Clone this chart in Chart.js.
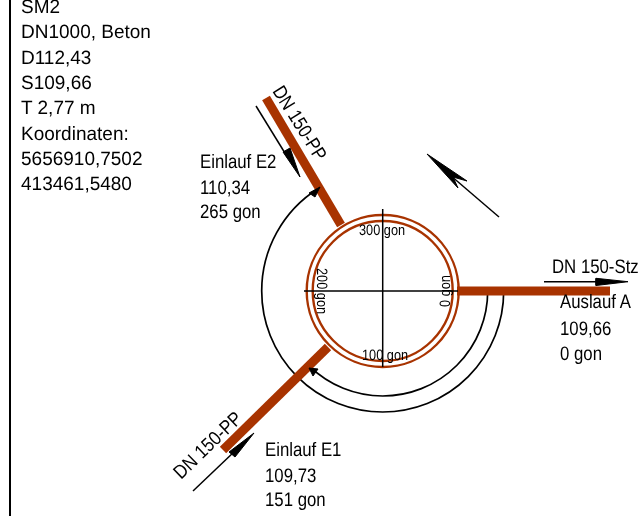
<!DOCTYPE html>
<html>
<head>
<meta charset="utf-8">
<style>
  html, body { margin: 0; padding: 0; background: #fff; }
  canvas { display: block; }
</style>
<script src="https://cdn.jsdelivr.net/npm/chart.js@4/dist/chart.umd.min.js"></script>
</head>
<body>
<canvas id="shaftChart" width="639" height="516"></canvas>
<script>
// Shaft centre and rings
const shaftCentre = { x: 382.7, y: 291 };
const ringRadii = [76, 70];

// Pipes
const pipeA = [{ x: 457, y: 291 }, { x: 610, y: 291 }];
const pipeE1 = [{ x: 328, y: 347 }, { x: 223, y: 450 }];
const pipeE2 = [{ x: 341, y: 225 }, { x: 266, y: 98 }];

// Cross inside the shaft
const crossH = [{ x: 304, y: 291 }, { x: 458, y: 291 }];
const crossV = [{ x: 382.7, y: 209 }, { x: 382.7, y: 367 }];

// Left border
const borderLine = [{ x: 10, y: 0 }, { x: 10, y: 516 }];

// Angle arcs, radius and end angle in gon
const arcRadii = [105, 121];
const arcEndGon = [149, 264];

// Flow arrows, shaft line and head outline
const shaftA = [{ x: 544, y: 281.7 }, { x: 600, y: 281.7 }];
const headA = [{ x: 628, y: 281.7 }, { x: 596, y: 278.3 }, { x: 596, y: 285.5 }];
const shaftE1 = [{ x: 193, y: 491 }, { x: 235, y: 451 }];
const headE1 = [{ x: 254, y: 433 }, { x: 229, y: 452 }, { x: 235, y: 457 }];
const shaftE2 = [{ x: 256, y: 106 }, { x: 288, y: 158 }];
const headE2 = [{ x: 300, y: 177 }, { x: 283, y: 152 }, { x: 290, y: 148 }];
const shaftNorth = [{ x: 499, y: 217 }, { x: 450, y: 175 }];
const headNorth = [{ x: 427, y: 154 }, { x: 467, y: 181 }, { x: 453, y: 177 }, { x: 458, y: 188 }];

// Arc arrow heads
const headArcInner = [{ x: 309, y: 368 }, { x: 318, y: 369 }, { x: 313, y: 376 }];
const headArcOuter = [{ x: 320, y: 187 }, { x: 309, y: 193 }, { x: 315, y: 197 }];

// Text blocks
const infoLines = ['SM2', 'DN1000, Beton', 'D112,43', 'S109,66', 'T 2,77 m', 'Koordinaten:', '5656910,7502', '413461,5480'];
const infoBaselines = [13, 38, 64, 89, 114, 140, 165, 190];
const e2Lines = ['Einlauf E2', '110,34', '265 gon'];
const e2Baselines = [168, 194, 218];
const e1Lines = ['Einlauf E1', '109,73', '151 gon'];
const e1Baselines = [456, 482, 506];
const aLines = ['Auslauf A', '109,66', '0 gon'];
const aBaselines = [308, 335, 360];

const brown = '#a83300';

// Line dataset helper
const lineSet = (data, width, color, order) => ({
    data,
    borderColor: color,
    borderWidth: width,
    showLine: true,
    pointRadius: 0,
    borderCapStyle: 'butt',
    tension: 0,
    order
});

// Filled arrow head helper
const headSet = (data) => ({
    data: [...data, data[0]],
    borderColor: '#000',
    backgroundColor: '#000',
    borderWidth: 1,
    showLine: true,
    pointRadius: 0,
    fill: 'shape',
    tension: 0,
    order: 0
});

// Draw text at chart coordinates, stretched in x only
const putText = (chart, text, x, y, size, stretch = 1, turn = 0) => {
    const ctx = chart.ctx;
    ctx.save();
    ctx.translate(chart.scales.x.getPixelForValue(x), chart.scales.y.getPixelForValue(y));
    ctx.rotate(turn * Math.PI / 180);
    ctx.scale(stretch, 1);
    ctx.textRendering = 'geometricPrecision';
    ctx.font = `${size}px "Liberation Sans"`;
    ctx.fillStyle = '#000';
    ctx.textBaseline = 'alphabetic';
    ctx.fillText(text, 0, 0);
    ctx.restore();
};

// Rings and angle arcs sit below the pipes
const ringsPlugin = {
    id: 'rings',
    beforeDatasetsDraw(chart) {
        const { ctx, scales } = chart;
        const cx = scales.x.getPixelForValue(shaftCentre.x);
        const cy = scales.y.getPixelForValue(shaftCentre.y);
        const toPx = (r) => scales.x.getPixelForValue(shaftCentre.x + r) - cx;
        ctx.save();
        ctx.strokeStyle = brown;
        ctx.lineWidth = 2.4;
        ringRadii.forEach(r => {
            ctx.beginPath();
            ctx.arc(cx, cy, toPx(r), 0, Math.PI * 2);
            ctx.stroke();
        });
        ctx.strokeStyle = '#000';
        ctx.lineWidth = 1.7;
        arcRadii.forEach((r, i) => {
            ctx.beginPath();
            ctx.arc(cx, cy, toPx(r), 0, arcEndGon[i] * Math.PI / 200);
            ctx.stroke();
        });
        ctx.restore();
    }
};

// All labels
const labelsPlugin = {
    id: 'labels',
    afterDatasetsDraw(chart) {
        infoLines.forEach((t, i) => putText(chart, t, 21, infoBaselines[i], 19.2, 0.99));
        e2Lines.forEach((t, i) => putText(chart, t, 200, e2Baselines[i], 19.5, 0.86));
        e1Lines.forEach((t, i) => putText(chart, t, 265, e1Baselines[i], 19.5, 0.86));
        aLines.forEach((t, i) => putText(chart, t, 560, aBaselines[i], 19.5, 0.86));
        putText(chart, 'DN 150-Stz', 552, 273, 19.5, 0.86);
        putText(chart, 'DN 150-PP', 272, 91, 19.5, 0.85, 58);
        putText(chart, 'DN 150-PP', 181, 480, 19.5, 0.88, -44);
        putText(chart, '300 gon', 359, 235, 15, 0.85);
        putText(chart, '100 gon', 362, 360, 15, 0.85);
        putText(chart, '200 gon', 317, 268, 15, 0.85, 90);
        putText(chart, '0 gon', 450, 307, 15, 0.85, -90);
    }
};

const shaftChart = new Chart(document.getElementById('shaftChart').getContext('2d'), {
    type: 'scatter',
    data: {
        datasets: [
            lineSet(crossH, 1.5, '#000', 1),
            lineSet(crossV, 1.5, '#000', 1),
            lineSet(pipeA, 9, brown, 2),
            lineSet(pipeE1, 9, brown, 2),
            lineSet(pipeE2, 9, brown, 2),
            lineSet(borderLine, 2, '#000', 1),
            lineSet(shaftA, 1.5, '#000', 1),
            lineSet(shaftE1, 1.5, '#000', 1),
            lineSet(shaftE2, 1.5, '#000', 1),
            lineSet(shaftNorth, 1.5, '#000', 1),
            headSet(headA),
            headSet(headE1),
            headSet(headE2),
            headSet(headNorth),
            headSet(headArcInner),
            headSet(headArcOuter)
        ]
    },
    options: {
        responsive: false,
        animation: false,
        layout: { padding: 0 },
        scales: {
            x: { type: 'linear', min: 0, max: 639, display: false },
            y: { type: 'linear', min: 0, max: 516, reverse: true, display: false }
        },
        plugins: {
            legend: { display: false },
            tooltip: { enabled: false }
        }
    },
    plugins: [ringsPlugin, labelsPlugin]
});
</script>
</body>
</html>
